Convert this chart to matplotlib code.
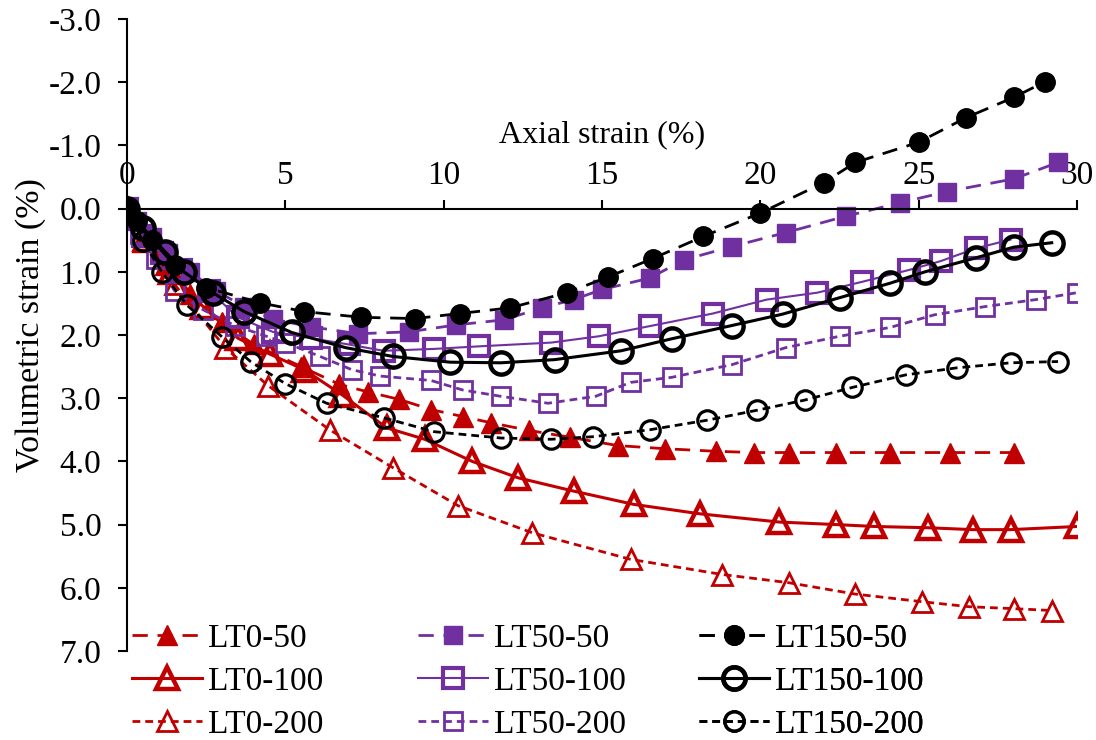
import matplotlib
matplotlib.use("Agg")
import matplotlib.pyplot as plt
from matplotlib.ticker import FuncFormatter

plt.rcParams['font.family'] = ['Liberation Serif', 'DejaVu Serif']

# --- data (axial strain %, volumetric strain %) ---
lt0_50_x = [0, 0.5, 1.2, 2.0, 3.0, 4.0, 5.5, 6.7, 7.6, 8.6, 9.6, 10.6, 11.5, 12.7,
            14.0, 15.5, 17.0, 18.6, 19.8, 20.9, 22.4, 24.1, 26.0, 28.0]
lt0_50_y = [0, 0.45, 0.9, 1.35, 1.8, 2.15, 2.5, 2.78, 2.9, 3.02, 3.18, 3.29, 3.39, 3.51,
            3.62, 3.75, 3.8, 3.84, 3.86, 3.86, 3.86, 3.86, 3.86, 3.86]

lt0_100_x = [0, 0.6, 1.4, 2.4, 3.5, 4.5, 5.6, 6.8, 8.2, 9.4, 10.9, 12.35, 14.1, 16.0,
             18.1, 20.6, 22.4, 23.6, 25.3, 26.7, 27.9, 30.0]
lt0_100_y = [0, 0.5, 1.0, 1.55, 2.05, 2.3, 2.55, 2.95, 3.47, 3.65, 4.0, 4.26, 4.47, 4.68,
             4.83, 4.96, 5.0, 5.03, 5.05, 5.08, 5.08, 5.03]

lt0_200_x = [0, 0.5, 1.5, 3.1, 4.45, 6.4, 8.4, 10.45, 12.8, 15.9, 18.8, 20.9, 23.0,
             25.1, 26.6, 28.0, 29.2]
lt0_200_y = [0, 0.5, 1.2, 2.2, 2.8, 3.5, 4.1, 4.7, 5.13, 5.55, 5.79, 5.92, 6.1,
             6.22, 6.3, 6.33, 6.36]

lt50_50_x = [0, 0.3, 0.8, 1.3, 2.0, 2.8, 3.7, 4.6, 5.8, 7.3, 8.9, 10.4, 11.9, 13.1,
             14.1, 15.0, 16.5, 17.6, 19.1, 20.8, 22.7, 24.4, 25.9, 28.0, 29.4]
lt50_50_y = [0, 0.2, 0.45, 0.7, 1.0, 1.3, 1.55, 1.75, 1.87, 1.98, 1.95, 1.84, 1.76, 1.57,
             1.44, 1.28, 1.1, 0.81, 0.6, 0.38, 0.12, -0.09, -0.27, -0.47, -0.73]

lt50_100_x = [0, 0.5, 1.1, 1.7, 2.6, 3.5, 4.6, 5.8, 7.0, 8.1, 9.7, 11.1, 13.4, 14.9,
              16.5, 18.5, 20.2, 21.8, 23.2, 24.7, 25.7, 26.8, 27.9]
lt50_100_y = [0, 0.44, 0.7, 0.97, 1.3, 1.72, 1.95, 2.05, 2.15, 2.25, 2.22, 2.18, 2.12, 2.02,
              1.86, 1.66, 1.44, 1.33, 1.16, 0.97, 0.83, 0.63, 0.49]

lt50_200_x = [0, 0.4, 0.9, 1.5, 2.4, 3.4, 4.4, 5.0, 6.1, 7.1, 8.0, 9.6, 10.6, 11.8,
              13.3, 14.8, 15.9, 17.2, 19.1, 20.8, 22.5, 24.1, 25.5, 27.1, 28.7, 30.0]
lt50_200_y = [0, 0.4, 0.8, 1.3, 1.6, 1.85, 2.02, 2.12, 2.34, 2.55, 2.65, 2.72, 2.87, 2.97,
              3.08, 2.97, 2.75, 2.67, 2.47, 2.2, 2.02, 1.88, 1.68, 1.55, 1.44, 1.33]

lt150_50_x = [0, 0.3, 0.8, 1.5, 2.5, 4.2, 5.6, 7.4, 9.1, 10.5, 12.1, 13.9, 15.2, 16.6,
              18.2, 20.0, 22.0, 23.0, 25.0, 26.5, 28.0, 29.0]
lt150_50_y = [0, 0.2, 0.5, 0.9, 1.25, 1.49, 1.63, 1.72, 1.74, 1.66, 1.57, 1.33, 1.08, 0.79,
              0.44, 0.07, -0.41, -0.73, -1.05, -1.44, -1.76, -2.01]

lt150_100_x = [0, 0.5, 1.2, 1.8, 2.7, 3.7, 5.2, 6.9, 8.4, 10.2, 11.8, 13.5, 15.6, 17.2,
               19.1, 20.7, 22.5, 24.1, 25.2, 26.8, 28.0, 29.2]
lt150_100_y = [0, 0.3, 0.68, 1.0, 1.33, 1.63, 1.96, 2.2, 2.34, 2.43, 2.44, 2.39, 2.25, 2.06,
               1.85, 1.67, 1.41, 1.18, 1.0, 0.78, 0.61, 0.54]

lt150_200_x = [0, 0.5, 1.1, 1.9, 3.0, 3.9, 5.0, 6.3, 8.1, 9.7, 11.8, 13.4, 14.7, 16.5,
               18.3, 19.9, 21.4, 22.9, 24.6, 26.2, 27.9, 29.4]
lt150_200_y = [0, 0.52, 1.0, 1.53, 2.03, 2.42, 2.77, 3.08, 3.31, 3.53, 3.63, 3.65, 3.61, 3.5,
               3.35, 3.19, 3.03, 2.83, 2.63, 2.52, 2.44, 2.42]

RED = "#C00000"
PURPLE = "#7030A0"
BLACK = "black"

LONG = (0, (5.5, 3.5))
SHORT = (0, (2.8, 1.8))

# name, x, y, colour, linestyle, linewidth, marker, facecolour, size, edge width
series = [
    ("LT0-50", lt0_50_x, lt0_50_y, RED, LONG, 2.0, "^", RED, 14, 1.0),
    ("LT0-100", lt0_100_x, lt0_100_y, RED, "-", 2.2, "^", "none", 16, 3.2),
    ("LT0-200", lt0_200_x, lt0_200_y, RED, SHORT, 2.0, "^", "none", 14, 2.0),
    ("LT50-50", lt50_50_x, lt50_50_y, PURPLE, LONG, 2.0, "s", PURPLE, 13.5, 1.0),
    ("LT50-100", lt50_100_x, lt50_100_y, PURPLE, "-", 1.5, "s", "none", 15, 3.0),
    ("LT50-200", lt50_200_x, lt50_200_y, PURPLE, SHORT, 2.0, "s", "none", 13, 2.0),
    ("LT150-50", lt150_50_x, lt150_50_y, BLACK, LONG, 2.0, "o", BLACK, 14, 1.0),
    ("LT150-100", lt150_100_x, lt150_100_y, BLACK, "-", 2.2, "o", "none", 16, 3.2),
    ("LT150-200", lt150_200_x, lt150_200_y, BLACK, SHORT, 2.0, "o", "none", 14, 2.3),
]

fig = plt.figure(figsize=(10.96, 7.40), dpi=100)
ax = fig.add_axes([0.1159, 0.1203, 0.8668, 0.854])

handles = {}
for name, xs, ys, col, ls, lw, mk, fc, ms, mew in series:
    h, = ax.plot(xs, ys, color=col, linestyle=ls, linewidth=lw, marker=mk,
                 markersize=ms, markerfacecolor=fc, markeredgecolor=col,
                 markeredgewidth=mew, label=name)
    handles[name] = h

ax.set_xlim(0, 30)
ax.set_ylim(7, -3)
ax.set_yticks([-3, -2, -1, 0, 1, 2, 3, 4, 5, 6, 7])
ax.yaxis.set_major_formatter(FuncFormatter(lambda v, p: f"{v:.1f}"))
ax.set_xticks([0, 5, 10, 15, 20, 25, 30])

ax.spines["right"].set_visible(False)
ax.spines["bottom"].set_visible(False)
ax.spines["top"].set_position(("data", 0))
ax.spines["top"].set_linewidth(1.5)
ax.spines["left"].set_linewidth(1.5)
ax.xaxis.set_ticks_position("top")
ax.xaxis.set_label_position("top")
ax.tick_params(axis="x", direction="out", length=6.5, width=1.5, labelsize=24, pad=6)
ax.tick_params(axis="y", direction="out", length=6.5, width=1.5, labelsize=24, pad=12)

ax.set_xlabel("Axial strain (%)", fontsize=23, labelpad=13)
ax.set_ylabel("Volumetric strain (%)", fontsize=24.5, labelpad=2, y=0.515)

# three legend columns placed separately so they sit on an even grid
legend_cols = [["LT0-50", "LT0-100", "LT0-200"],
               ["LT50-50", "LT50-100", "LT50-200"],
               ["LT150-50", "LT150-100", "LT150-200"]]
col_x = [0.1204, 0.3814, 0.6378]
for names, x0 in zip(legend_cols, col_x):
    leg = ax.legend([handles[n] for n in names], names, frameon=False, fontsize=24,
                    loc="center left", bbox_to_anchor=(x0, 0.079),
                    bbox_transform=fig.transFigure, handlelength=2.1,
                    handletextpad=0.18, labelspacing=0.37, borderpad=0,
                    borderaxespad=0)
    ax.add_artist(leg)

fig.savefig("out.png", dpi=100)
